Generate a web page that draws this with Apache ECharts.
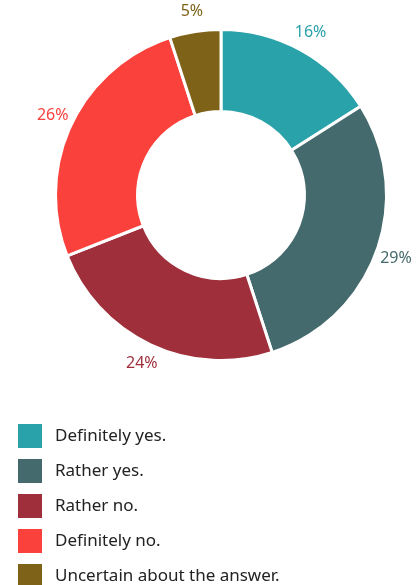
<!DOCTYPE html>
<html>
<head>
<meta charset="utf-8">
<script src="https://cdn.jsdelivr.net/npm/echarts@6/dist/echarts.min.js"></script>
<style>
  html, body { margin: 0; padding: 0; background: #fff; }
  #chart { width: 418px; height: 585px; }
</style>
</head>
<body>
<div id="chart"></div>
<script>
// Survey answers and their shares (percent)
const categories = ['Definitely yes.', 'Rather yes.', 'Rather no.', 'Definitely no.', 'Uncertain about the answer.'];
const shares = [16, 29, 24, 26, 5];
const colors = ['#2aa2aa', '#456a6d', '#9e2f3b', '#fb413c', '#7e6218'];

const FONT = '"Noto Sans", "Open Sans", sans-serif';
const center = [221, 195];

const chart = echarts.init(document.getElementById('chart'), null, { renderer: 'canvas' });

const sliceData = categories.map((name, i) => ({ name, value: shares[i] }));

chart.setOption({
  animation: false,
  color: colors,
  legend: {
    orient: 'vertical',
    left: 11,
    top: 417,
    height: 220,
    padding: 5,
    itemWidth: 26,
    itemHeight: 26,
    itemGap: 7,
    icon: 'rect',
    selectedMode: false,
    data: categories,
    textStyle: {
      fontFamily: FONT,
      fontSize: 17,
      lineHeight: 20,
      color: '#222',
      padding: [0, 0, 0, 7]
    }
  },
  series: [
    {
      // the donut itself
      type: 'pie',
      center: center,
      radius: [83.5, 165.5],
      startAngle: 90,
      clockwise: true,
      silent: true,
      itemStyle: { borderColor: '#fff', borderWidth: 3 },
      label: { show: false },
      labelLine: { show: false },
      data: sliceData
    },
    {
      // invisible ring that carries the percentage labels around the donut
      type: 'pie',
      center: center,
      radius: [168, 198],
      startAngle: 90,
      clockwise: true,
      silent: true,
      legendHoverLink: false,
      itemStyle: { color: 'rgba(0,0,0,0)', borderWidth: 0 },
      label: {
        show: true,
        position: 'inside',
        fontFamily: FONT,
        fontSize: 16,
        formatter: p => p.value + '%'
      },
      labelLine: { show: false },
      data: categories.map((name, i) => ({
        name,
        value: shares[i],
        label: { color: colors[i] }
      }))
    }
  ]
});
</script>
</body>
</html>
